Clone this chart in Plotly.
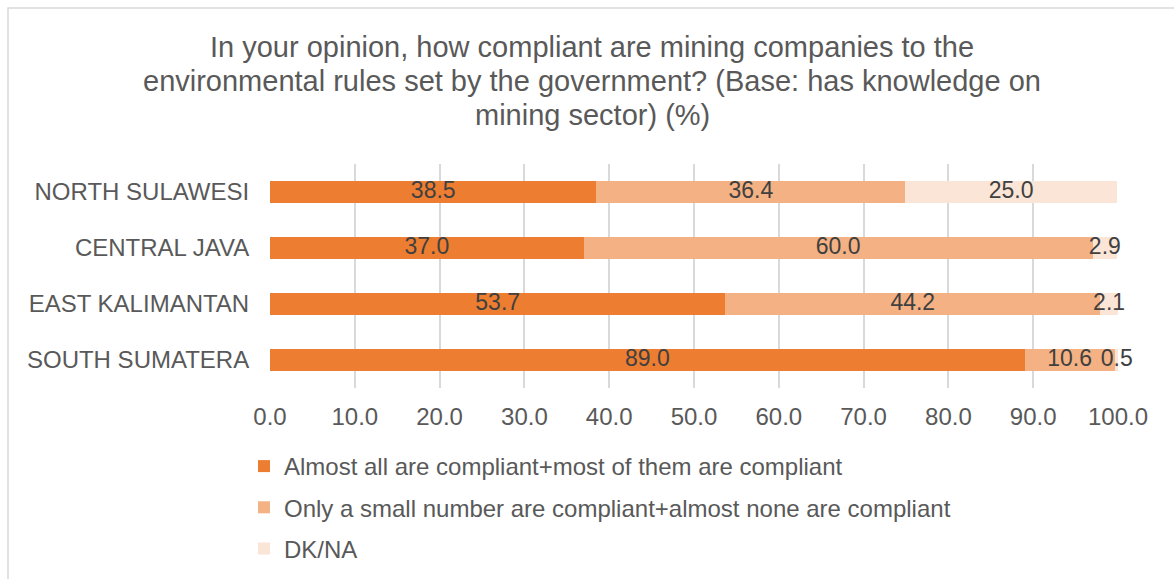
import plotly.graph_objects as go

# Survey regions, listed top to bottom as drawn
regions = ["NORTH SULAWESI", "CENTRAL JAVA", "EAST KALIMANTAN", "SOUTH SUMATERA"]

# Share of respondents (%) per answer group
compliant = [38.5, 37.0, 53.7, 89.0]
not_compliant = [36.4, 60.0, 44.2, 10.6]
dk_na = [25.0, 2.9, 2.1, 0.5]

series_names = [
    "Almost all are compliant+most of them are compliant",
    "Only a small number are compliant+almost none are compliant",
    "DK/NA",
]
series_values = [compliant, not_compliant, dk_na]
series_colors = ["#ED7D31", "#F4B183", "#FBE5D6"]

x_ticks = [0, 10, 20, 30, 40, 50, 60, 70, 80, 90, 100]

FONT = "Liberation Sans, Arial, sans-serif"
W, H = 1174, 579
L, R, T, B = 270, 56, 164, 191
plot_w = W - L - R
plot_h = H - T - B


def px_to_paper_x(px):
    return (px - L) / plot_w


def px_to_paper_y(py):
    return (H - B - py) / plot_h


fig = go.Figure()

for i, (name, vals, col) in enumerate(zip(series_names, series_values, series_colors)):
    fig.add_trace(go.Bar(
        y=regions, x=vals, name=name, orientation="h",
        marker=dict(color=col, line=dict(width=0)),
        legendgroup=f"g{i}", hoverinfo="x+name",
    ))

# Value labels centred on each stacked segment
base = [0.0] * len(regions)
for vals in series_values:
    mids = [b + v / 2 for b, v in zip(base, vals)]
    fig.add_trace(go.Scatter(
        x=mids, y=regions, mode="text",
        text=[f"{v:.1f}" for v in vals],
        textposition="middle center",
        textfont=dict(family=FONT, size=23, color="#404040"),
        showlegend=False, hoverinfo="skip", cliponaxis=False,
    ))
    base = [b + v for b, v in zip(base, vals)]

# Title lines
title_lines = [
    "In your opinion, how compliant are mining companies to the",
    "environmental rules set by the government? (Base: has knowledge on",
    "mining sector) (%)",
]
title_y = [47, 81, 115]
for line, yy in zip(title_lines, title_y):
    fig.add_annotation(
        text=line, xref="paper", yref="paper",
        x=px_to_paper_x(592), y=px_to_paper_y(yy),
        xanchor="center", yanchor="middle", showarrow=False,
        font=dict(family=FONT, size=29, color="#595959"),
    )

# Chart frame
fig.add_shape(
    type="rect", xref="paper", yref="paper",
    x0=px_to_paper_x(8), x1=px_to_paper_x(1200),
    y0=px_to_paper_y(600), y1=px_to_paper_y(8),
    line=dict(color="#D9D9D9", width=1.5), fillcolor="rgba(0,0,0,0)",
    layer="below",
)

fig.update_layout(
    width=W, height=H,
    margin=dict(l=L, r=R, t=T, b=B, pad=0, autoexpand=False),
    paper_bgcolor="white", plot_bgcolor="white",
    barmode="stack", bargap=1 - 22 / 56,
    font=dict(family=FONT, size=24, color="#595959"),
    showlegend=True,
    legend=dict(
        xref="container", yref="container",
        x=244 / W, y=1 - 444 / H,
        xanchor="left", yanchor="top",
        traceorder="grouped", tracegroupgap=7,
        font=dict(family=FONT, size=24, color="#595959"),
        itemwidth=30, bgcolor="rgba(0,0,0,0)",
    ),
    xaxis=dict(
        range=[0, 100], tickvals=x_ticks,
        ticktext=[f"{v:.1f}" for v in x_ticks],
        showgrid=True, gridcolor="#D9D9D9", gridwidth=1.5,
        zeroline=False, showline=False,
        ticks="outside", ticklen=7, tickcolor="rgba(0,0,0,0)",
        tickfont=dict(family=FONT, size=24, color="#595959"),
        fixedrange=True, automargin=False,
    ),
    yaxis=dict(
        categoryorder="array", categoryarray=regions, autorange="reversed",
        showgrid=False, zeroline=False, showline=False,
        ticks="outside", ticklen=15, tickcolor="rgba(0,0,0,0)",
        tickfont=dict(family=FONT, size=24, color="#595959"),
        fixedrange=True, automargin=False,
    ),
)

fig.write_html("out.html")
